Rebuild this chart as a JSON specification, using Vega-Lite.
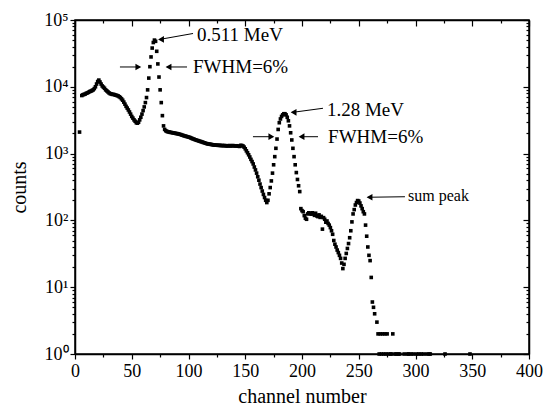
{
  "$schema": "https://vega.github.io/schema/vega-lite/v6.json",
  "width": 454,
  "height": 334,
  "autosize": {"type": "none"},
  "padding": {"left": 75, "top": 20, "right": 15, "bottom": 60},
  "background": "white",
  "config": {
    "view": {"stroke": "black", "strokeWidth": 1.5},
    "font": "Times New Roman, Liberation Serif, serif",
    "axis": {
      "domainColor": "black", "tickColor": "black", "labelColor": "black", "titleColor": "black",
      "labelFont": "Times New Roman, Liberation Serif, serif", "titleFont": "Times New Roman, Liberation Serif, serif",
      "labelFontSize": 18, "titleFontSize": 20, "titleFontWeight": "normal",
      "grid": false, "domainWidth": 1.5, "tickWidth": 1.2, "labelOverlap": false, "labelBound": false, "labelFlush": false
    }
  },
  "datasets": {
    "spectrum": [
      {"ch":4,"counts":2100},{"ch":6,"counts":7400},{"ch":7,"counts":7600},{"ch":8,"counts":7700},{"ch":9,"counts":7800},{"ch":10,"counts":8000},
      {"ch":11,"counts":8100},{"ch":12,"counts":8300},{"ch":13,"counts":8500},{"ch":14,"counts":8600},{"ch":15,"counts":8800},{"ch":16,"counts":9000},
      {"ch":17,"counts":9400},{"ch":18,"counts":10000},{"ch":19,"counts":11000},{"ch":20,"counts":12000},{"ch":21,"counts":12600},{"ch":22,"counts":11800},
      {"ch":23,"counts":11000},{"ch":24,"counts":10300},{"ch":25,"counts":9900},{"ch":26,"counts":9500},{"ch":27,"counts":9000},{"ch":28,"counts":8700},
      {"ch":29,"counts":8400},{"ch":30,"counts":8100},{"ch":31,"counts":7900},{"ch":32,"counts":7800},{"ch":33,"counts":7700},{"ch":34,"counts":7700},
      {"ch":35,"counts":7600},{"ch":36,"counts":7500},{"ch":37,"counts":7400},{"ch":38,"counts":7300},{"ch":39,"counts":7100},{"ch":40,"counts":6900},
      {"ch":41,"counts":6600},{"ch":42,"counts":6300},{"ch":43,"counts":5900},{"ch":44,"counts":5500},{"ch":45,"counts":5100},{"ch":46,"counts":4800},
      {"ch":47,"counts":4500},{"ch":48,"counts":4200},{"ch":49,"counts":3900},{"ch":50,"counts":3600},{"ch":51,"counts":3400},{"ch":52,"counts":3200},
      {"ch":53,"counts":3050},{"ch":54,"counts":2900},{"ch":55,"counts":2850},{"ch":56,"counts":2950},{"ch":57,"counts":3200},{"ch":58,"counts":3500},
      {"ch":59,"counts":3900},{"ch":60,"counts":4400},{"ch":61,"counts":5000},{"ch":62,"counts":5800},{"ch":63,"counts":6900},{"ch":64,"counts":9000},
      {"ch":65,"counts":13500},{"ch":66,"counts":20000},{"ch":67,"counts":28000},{"ch":68,"counts":38000},{"ch":69,"counts":46000},{"ch":70,"counts":50000},
      {"ch":71,"counts":48000},{"ch":72,"counts":34000},{"ch":73,"counts":22000},{"ch":74,"counts":14000},{"ch":75,"counts":9000},{"ch":76,"counts":5800},
      {"ch":77,"counts":3700},{"ch":78,"counts":2600},{"ch":79,"counts":2300},{"ch":80,"counts":2200},
      {"ch":81,"counts":2150},{"ch":82,"counts":2120},{"ch":83,"counts":2100},{"ch":84,"counts":2080},{"ch":85,"counts":2070},{"ch":86,"counts":2050},
      {"ch":87,"counts":2040},{"ch":88,"counts":2020},{"ch":89,"counts":2000},{"ch":90,"counts":1990},{"ch":91,"counts":1970},{"ch":92,"counts":1950},
      {"ch":93,"counts":1930},{"ch":94,"counts":1900},{"ch":95,"counts":1880},{"ch":96,"counts":1850},{"ch":97,"counts":1830},{"ch":98,"counts":1810},
      {"ch":99,"counts":1790},{"ch":100,"counts":1770},{"ch":101,"counts":1750},{"ch":102,"counts":1720},{"ch":103,"counts":1690},{"ch":104,"counts":1660},
      {"ch":105,"counts":1640},{"ch":106,"counts":1610},{"ch":107,"counts":1590},{"ch":108,"counts":1570},{"ch":109,"counts":1550},{"ch":110,"counts":1530},
      {"ch":111,"counts":1510},{"ch":112,"counts":1490},{"ch":113,"counts":1470},{"ch":114,"counts":1450},{"ch":115,"counts":1430},{"ch":116,"counts":1410},
      {"ch":117,"counts":1400},{"ch":118,"counts":1390},{"ch":119,"counts":1380},{"ch":120,"counts":1370},{"ch":121,"counts":1360},{"ch":122,"counts":1350},
      {"ch":123,"counts":1345},{"ch":124,"counts":1340},{"ch":125,"counts":1335},{"ch":126,"counts":1330},{"ch":127,"counts":1330},{"ch":128,"counts":1325},
      {"ch":129,"counts":1320},{"ch":130,"counts":1320},{"ch":131,"counts":1315},{"ch":132,"counts":1320},{"ch":133,"counts":1310},{"ch":134,"counts":1300},
      {"ch":135,"counts":1310},{"ch":136,"counts":1320},{"ch":137,"counts":1300},{"ch":138,"counts":1310},{"ch":139,"counts":1320},{"ch":140,"counts":1310},
      {"ch":141,"counts":1300},{"ch":142,"counts":1310},{"ch":143,"counts":1300},{"ch":144,"counts":1290},{"ch":145,"counts":1280},{"ch":146,"counts":1330},
      {"ch":147,"counts":1320},{"ch":148,"counts":1300},{"ch":149,"counts":1250},{"ch":150,"counts":1180},{"ch":151,"counts":1100},{"ch":152,"counts":1030},
      {"ch":153,"counts":960},{"ch":154,"counts":890},{"ch":155,"counts":820},{"ch":156,"counts":760},{"ch":157,"counts":700},{"ch":158,"counts":630},
      {"ch":159,"counts":570},{"ch":160,"counts":510},{"ch":161,"counts":450},{"ch":162,"counts":400},{"ch":163,"counts":350},{"ch":164,"counts":310},
      {"ch":165,"counts":275},{"ch":166,"counts":245},{"ch":167,"counts":220},{"ch":168,"counts":200},{"ch":169,"counts":185},{"ch":170,"counts":200},
      {"ch":171,"counts":250},{"ch":172,"counts":310},{"ch":173,"counts":390},{"ch":174,"counts":510},{"ch":175,"counts":680},{"ch":176,"counts":900},
      {"ch":177,"counts":1200},{"ch":178,"counts":1650},{"ch":179,"counts":2300},{"ch":180,"counts":2900},{"ch":181,"counts":3300},{"ch":182,"counts":3600},
      {"ch":183,"counts":3800},{"ch":184,"counts":3950},{"ch":185,"counts":3950},{"ch":186,"counts":3800},{"ch":187,"counts":3500},{"ch":188,"counts":3100},
      {"ch":189,"counts":2600},{"ch":190,"counts":2050},{"ch":191,"counts":1600},{"ch":192,"counts":1200},{"ch":193,"counts":900},{"ch":194,"counts":680},
      {"ch":195,"counts":520},{"ch":196,"counts":410},{"ch":197,"counts":330},{"ch":198,"counts":270},{"ch":199,"counts":150},{"ch":200,"counts":140},
      {"ch":201,"counts":135},{"ch":202,"counts":118},{"ch":203,"counts":108},{"ch":204,"counts":104},{"ch":205,"counts":125},{"ch":206,"counts":130},
      {"ch":207,"counts":127},{"ch":208,"counts":124},{"ch":209,"counts":130},{"ch":210,"counts":126},{"ch":211,"counts":119},{"ch":212,"counts":128},
      {"ch":213,"counts":117},{"ch":214,"counts":114},{"ch":215,"counts":121},{"ch":216,"counts":111},{"ch":217,"counts":115},{"ch":218,"counts":74},
      {"ch":219,"counts":110},{"ch":220,"counts":104},{"ch":221,"counts":94},{"ch":222,"counts":98},{"ch":223,"counts":90},{"ch":224,"counts":85},
      {"ch":225,"counts":78},{"ch":226,"counts":70},{"ch":227,"counts":62},{"ch":228,"counts":50},{"ch":229,"counts":44},{"ch":230,"counts":40},
      {"ch":231,"counts":36},{"ch":232,"counts":33},{"ch":233,"counts":30},{"ch":234,"counts":27},{"ch":235,"counts":23},{"ch":236,"counts":19},
      {"ch":237,"counts":22},{"ch":238,"counts":27},{"ch":239,"counts":32},{"ch":240,"counts":38},{"ch":241,"counts":45},{"ch":242,"counts":55},
      {"ch":243,"counts":70},{"ch":244,"counts":95},{"ch":245,"counts":125},{"ch":246,"counts":145},{"ch":247,"counts":170},{"ch":248,"counts":185},
      {"ch":249,"counts":198},{"ch":250,"counts":195},{"ch":251,"counts":182},{"ch":252,"counts":165},{"ch":253,"counts":150},{"ch":254,"counts":135},
      {"ch":255,"counts":125},{"ch":256,"counts":85},{"ch":257,"counts":58},{"ch":258,"counts":40},{"ch":259,"counts":30},{"ch":260,"counts":25},
      {"ch":261,"counts":14},{"ch":262,"counts":6},{"ch":263,"counts":5},{"ch":264,"counts":4},{"ch":266,"counts":3},{"ch":267,"counts":2},
      {"ch":268,"counts":1},{"ch":269,"counts":2},{"ch":270,"counts":1},{"ch":271,"counts":2},{"ch":272,"counts":1},{"ch":273,"counts":2},
      {"ch":274,"counts":1},{"ch":275,"counts":2},{"ch":276,"counts":1},{"ch":278,"counts":1},{"ch":279,"counts":1},{"ch":280,"counts":2},
      {"ch":282,"counts":1},{"ch":283,"counts":1},{"ch":285,"counts":1},{"ch":286,"counts":1},{"ch":290,"counts":1},{"ch":293,"counts":1},
      {"ch":294,"counts":1},{"ch":296,"counts":1},{"ch":298,"counts":1},{"ch":301,"counts":1},{"ch":303,"counts":1},{"ch":305,"counts":1},
      {"ch":307,"counts":1},{"ch":310,"counts":1},{"ch":312,"counts":1},{"ch":313,"counts":1},{"ch":326,"counts":1},{"ch":348,"counts":1}
    ],
    "labels": [
      {"x": 107.5, "y": 59600, "text": "0.511 MeV"},
      {"x": 104, "y": 19800, "text": "FWHM=6%"},
      {"x": 222, "y": 4500, "text": "1.28 MeV"},
      {"x": 223, "y": 1790, "text": "FWHM=6%"},
      {"x": 293.4, "y": 232, "text": "sum peak"}
    ],
    "arrows": [
      {"x1": 104, "y1": 62800, "x2": 74, "y2": 51000},
      {"x1": 39.6, "y1": 19800, "x2": 57, "y2": 19800},
      {"x1": 98.7, "y1": 19800, "x2": 81, "y2": 19800},
      {"x1": 218.5, "y1": 4770, "x2": 191, "y2": 4130},
      {"x1": 156.8, "y1": 1790, "x2": 174, "y2": 1790},
      {"x1": 214.1, "y1": 1790, "x2": 198.5, "y2": 1790},
      {"x1": 290.7, "y1": 226, "x2": 258, "y2": 222}
    ],
    "heads": [
      {"x": 75.8, "y": 51200, "dir": "left"},
      {"x": 55.8, "y": 19800, "dir": "right"},
      {"x": 82.4, "y": 19800, "dir": "left"},
      {"x": 192.6, "y": 4150, "dir": "left"},
      {"x": 173, "y": 1790, "dir": "right"},
      {"x": 199.6, "y": 1790, "dir": "left"},
      {"x": 259.5, "y": 222, "dir": "left"}
    ]
  },
  "layer": [
    {
      "data": {"name": "spectrum"},
      "mark": {"type": "square", "size": 13, "color": "black", "opacity": 1},
      "encoding": {
        "x": {
          "field": "ch", "type": "quantitative",
          "scale": {"domain": [0, 400], "nice": false},
          "axis": {
            "orient": "bottom", "title": "channel number",
            "values": [0,25,50,75,100,125,150,175,200,225,250,275,300,325,350,375,400],
            "labelExpr": "datum.value % 50 === 0 ? datum.label : ''",
            "tickSize": {"condition": {"test": "datum.value % 50 === 0", "value": 5}, "value": 3},
            "labelPadding": 3, "titlePadding": 6
          }
        },
        "y": {
          "field": "counts", "type": "quantitative",
          "scale": {"type": "log", "domain": [1, 100000], "nice": false},
          "axis": {
            "orient": "left", "title": "counts",
            "values": [1,2,3,4,5,6,7,8,9,10,20,30,40,50,60,70,80,90,100,200,300,400,500,600,700,800,900,1000,2000,3000,4000,5000,6000,7000,8000,9000,10000,20000,30000,40000,50000,60000,70000,80000,90000,100000],
            "labelExpr": "abs(log(datum.value)/LN10 - round(log(datum.value)/LN10)) < 0.001 ? '10' + ['⁰','¹','²','³','⁴','⁵'][round(log(datum.value)/LN10)] : ''",
            "tickSize": {"condition": {"test": "abs(log(datum.value)/LN10 - round(log(datum.value)/LN10)) < 0.001", "value": 5}, "value": 3},
            "labelPadding": 2, "titlePadding": 14
          }
        }
      }
    },
    {
      "data": {"name": "spectrum"},
      "mark": {"type": "point", "opacity": 0},
      "encoding": {
        "x": {
          "field": "ch", "type": "quantitative",
          "axis": {
            "orient": "top", "title": null, "labels": false,
            "values": [0,25,50,75,100,125,150,175,200,225,250,275,300,325,350,375,400],
            "tickSize": {"condition": {"test": "datum.value % 50 === 0", "value": -6}, "value": -3}
          }
        },
        "y": {
          "field": "counts", "type": "quantitative",
          "axis": {
            "orient": "right", "title": null, "labels": false,
            "values": [1,2,3,4,5,6,7,8,9,10,20,30,40,50,60,70,80,90,100,200,300,400,500,600,700,800,900,1000,2000,3000,4000,5000,6000,7000,8000,9000,10000,20000,30000,40000,50000,60000,70000,80000,90000,100000],
            "tickSize": {"condition": {"test": "abs(log(datum.value)/LN10 - round(log(datum.value)/LN10)) < 0.001", "value": -6}, "value": -3}
          }
        }
      }
    },
    {
      "data": {"name": "arrows"},
      "mark": {"type": "rule", "color": "black", "strokeWidth": 1},
      "encoding": {
        "x": {"field": "x1", "type": "quantitative", "axis": null},
        "y": {"field": "y1", "type": "quantitative", "axis": null},
        "x2": {"field": "x2"},
        "y2": {"field": "y2"}
      }
    },
    {
      "data": {"name": "heads"},
      "mark": {"type": "point", "filled": true, "color": "black", "size": 45, "opacity": 1},
      "encoding": {
        "x": {"field": "x", "type": "quantitative", "axis": null},
        "y": {"field": "y", "type": "quantitative", "axis": null},
        "shape": {"field": "dir", "type": "nominal", "scale": {"domain": ["left", "right"], "range": ["triangle-left", "triangle-right"]}, "legend": null}
      }
    },
    {
      "data": {"name": "labels"},
      "transform": [{"filter": "datum.text !== 'sum peak'"}],
      "mark": {"type": "text", "align": "left", "baseline": "middle", "font": "Times New Roman, Liberation Serif, serif", "fontSize": 19, "color": "black"},
      "encoding": {
        "x": {"field": "x", "type": "quantitative", "axis": null},
        "y": {"field": "y", "type": "quantitative", "axis": null},
        "text": {"field": "text"}
      }
    },
    {
      "data": {"name": "labels"},
      "transform": [{"filter": "datum.text === 'sum peak'"}],
      "mark": {"type": "text", "align": "left", "baseline": "middle", "font": "Times New Roman, Liberation Serif, serif", "fontSize": 16, "color": "black"},
      "encoding": {
        "x": {"field": "x", "type": "quantitative", "axis": null},
        "y": {"field": "y", "type": "quantitative", "axis": null},
        "text": {"field": "text"}
      }
    }
  ],
  "resolve": {"axis": {"x": "independent", "y": "independent"}}
}
